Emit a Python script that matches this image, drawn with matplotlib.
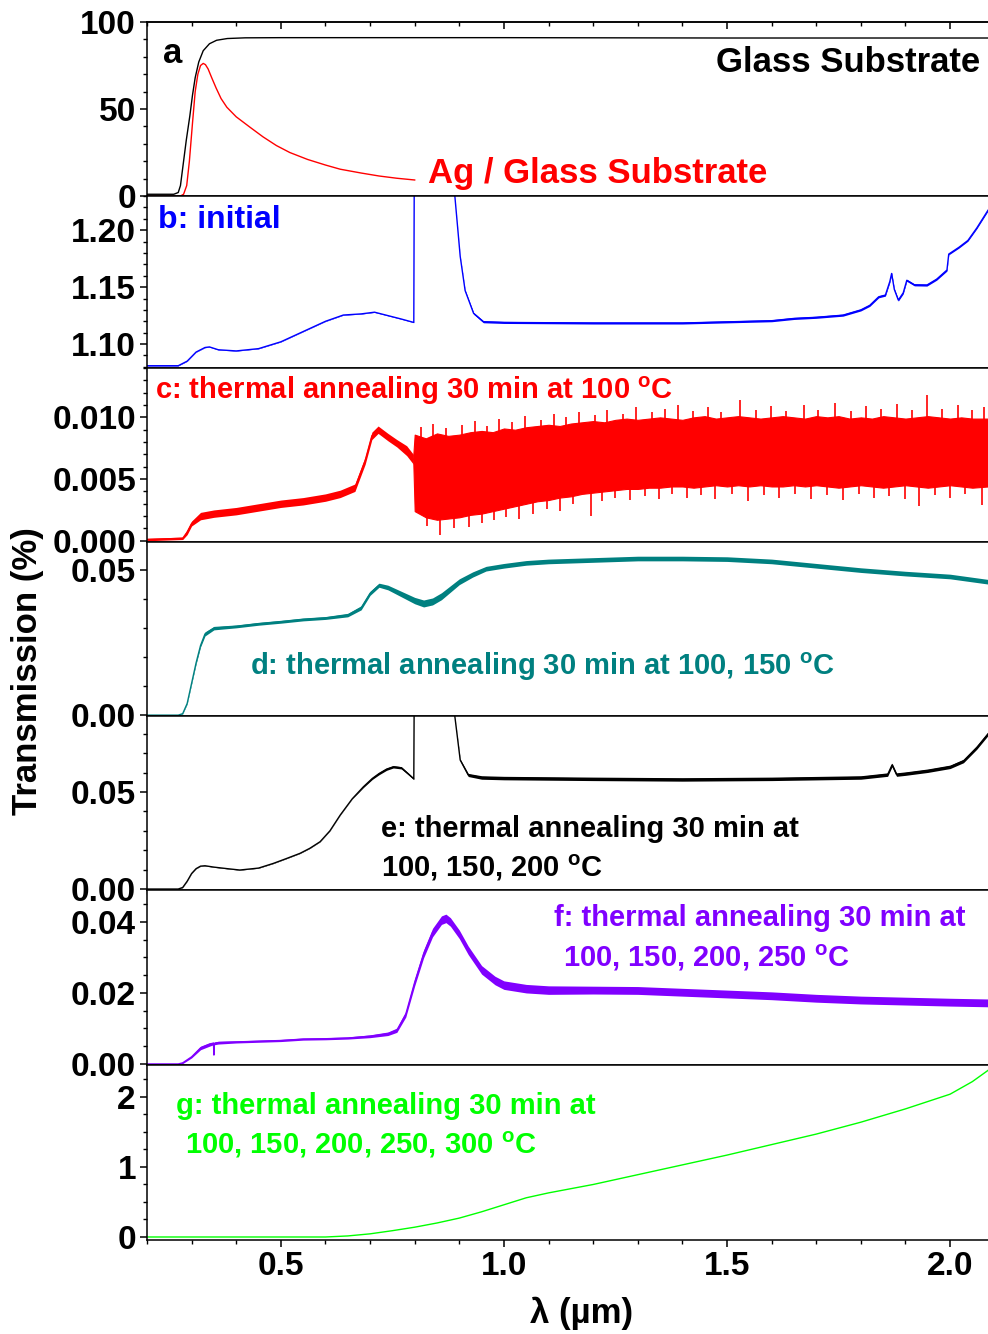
import matplotlib
matplotlib.use("Agg")
import matplotlib.pyplot as plt
from matplotlib.ticker import MultipleLocator, FormatStrFormatter
import numpy as np

plt.rcParams['font.family'] = ['Liberation Sans', 'DejaVu Sans']
plt.rcParams['font.weight'] = 'bold'
plt.rcParams['mathtext.fontset'] = 'custom'
plt.rcParams['mathtext.rm'] = 'Liberation Sans:bold'
plt.rcParams['mathtext.bf'] = 'Liberation Sans:bold'

# ---------------- data ----------------
# panel a: glass substrate and Ag / glass
a_glass_x = [0.20, 0.26, 0.27, 0.275, 0.281, 0.288, 0.296, 0.302, 0.308, 0.316, 0.326, 0.34,
             0.356, 0.38, 0.42, 0.50, 1.00, 1.50, 2.085]
a_glass_y = [1.0, 1.0, 2.0, 6.0, 18.0, 32.0, 46.0, 58.0, 68.0, 77.0, 83.5, 87.5, 89.5, 90.5,
             90.9, 91.0, 91.0, 90.8, 90.8]
a_ag_x = [0.20, 0.275, 0.282, 0.289, 0.295, 0.302, 0.308, 0.314, 0.320, 0.326, 0.331, 0.337,
          0.345, 0.355, 0.366, 0.379, 0.40, 0.431, 0.46, 0.49, 0.52, 0.56, 0.60, 0.633, 0.68,
          0.72, 0.76, 0.80]
a_ag_y = [0.0, 0.0, 1.0, 6.0, 20.0, 42.0, 60.0, 70.0, 75.0, 76.2, 75.5, 73.0, 68.0, 62.0, 56.0,
          51.0, 45.5, 39.5, 34.0, 29.0, 25.0, 21.0, 17.8, 15.4, 13.2, 11.5, 10.2, 9.2]

# panel b: initial
b_x = [0.20, 0.27, 0.29, 0.31, 0.33, 0.34, 0.36, 0.40, 0.45, 0.50, 0.55, 0.60, 0.64, 0.68, 0.71,
       0.74, 0.77, 0.798, 0.801, 0.888, 0.890, 0.902, 0.913, 0.932, 0.954, 1.00, 1.20, 1.40, 1.60,
       1.65, 1.70, 1.76, 1.80, 1.82, 1.84, 1.855, 1.865, 1.869, 1.875, 1.884, 1.895, 1.903, 1.92,
       1.948, 1.97, 1.993, 1.997, 2.02, 2.04, 2.06, 2.085]
b_y = [1.081, 1.081, 1.085, 1.093, 1.097, 1.0975, 1.095, 1.094, 1.096, 1.102, 1.111, 1.120, 1.1255,
       1.1265, 1.128, 1.125, 1.122, 1.119, 1.5, 1.5, 1.23, 1.177, 1.147, 1.127, 1.1196, 1.119,
       1.1185, 1.1185, 1.1205, 1.1225, 1.1235, 1.1254, 1.130, 1.134, 1.1415, 1.143, 1.155, 1.162,
       1.148, 1.1386, 1.145, 1.156, 1.152, 1.1518, 1.157, 1.165, 1.179, 1.185, 1.191, 1.202, 1.2175]
b_noise = [0.0002] * 19 + [0.0, 0.0, 0.0004, 0.0006, 0.0008, 0.0009, 0.0009, 0.0009, 0.0009,
           0.0009, 0.0009, 0.0009, 0.0009, 0.0009, 0.0009, 0.0009, 0.0009, 0.0009, 0.0009,
           0.0009, 0.0009, 0.0009, 0.0009, 0.0009, 0.0009, 0.0009, 0.0009, 0.0007, 0.0007,
           0.0007, 0.0007, 0.0007]

# panel c: 100 C  (smooth part + noisy part)
c_x = [0.20, 0.28, 0.29, 0.30, 0.32, 0.35, 0.40, 0.45, 0.50, 0.55, 0.60, 0.633, 0.666, 0.689,
       0.704, 0.718, 0.74, 0.76, 0.782, 0.797]
c_y = [0.0001, 0.0002, 0.0007, 0.0014, 0.0020, 0.0022, 0.0024, 0.0027, 0.0030, 0.0032, 0.0035,
       0.0038, 0.0043, 0.0065, 0.0085, 0.0090, 0.0084, 0.0079, 0.0073, 0.0066]
c_n = [0.0001, 0.0001, 0.0002, 0.0002, 0.0003, 0.0003, 0.0003, 0.0003, 0.0003, 0.0003, 0.0003,
       0.0003, 0.0003, 0.0003, 0.0003, 0.0003, 0.0003, 0.0003, 0.0004, 0.0004]
c_noisy_x = [0.797, 0.800, 0.825, 0.850, 0.875, 0.900, 0.925, 0.950, 0.975, 1.000, 1.025, 1.050,
             1.075, 1.100, 1.125, 1.150, 1.175, 1.200, 1.225, 1.250, 1.275, 1.300, 1.325, 1.350,
             1.375, 1.400, 1.425, 1.450, 1.475, 1.500, 1.525, 1.550, 1.575, 1.600, 1.625, 1.650,
             1.675, 1.700, 1.725, 1.750, 1.775, 1.800, 1.825, 1.850, 1.875, 1.900, 1.925, 1.950,
             1.975, 2.000, 2.025, 2.050, 2.085]
c_noisy_hi = [0.0070, 0.0086, 0.0083, 0.0087, 0.0085, 0.0086, 0.0088, 0.0089, 0.0088, 0.0091,
              0.0090, 0.0092, 0.0093, 0.0094, 0.0093, 0.0095, 0.0096, 0.0097, 0.0096, 0.0098,
              0.0099, 0.0098, 0.0099, 0.0100, 0.0099, 0.0098, 0.0100, 0.0101, 0.0099, 0.0100,
              0.0101, 0.0100, 0.0099, 0.0100, 0.0101, 0.0100, 0.0099, 0.0101, 0.0100, 0.0101,
              0.0099, 0.0100, 0.0099, 0.0101, 0.0100, 0.0099, 0.0100, 0.0101, 0.0100, 0.0099,
              0.0100, 0.0099, 0.0099]
c_noisy_lo = [0.0062, 0.0024, 0.0019, 0.0017, 0.0018, 0.0019, 0.0021, 0.0022, 0.0024, 0.0026,
              0.0028, 0.0030, 0.0032, 0.0033, 0.0035, 0.0036, 0.0038, 0.0039, 0.0040, 0.0041,
              0.0042, 0.0042, 0.0043, 0.0043, 0.0044, 0.0044, 0.0043, 0.0044, 0.0045, 0.0044,
              0.0045, 0.0044, 0.0045, 0.0044, 0.0044, 0.0045, 0.0044, 0.0045, 0.0044, 0.0043,
              0.0044, 0.0045, 0.0044, 0.0043, 0.0044, 0.0045, 0.0044, 0.0043, 0.0044, 0.0045,
              0.0044, 0.0043, 0.0044]
# noise spikes in panel c (upward tips and downward tips)
c_up_x = [0.815, 0.842, 0.871, 0.905, 0.936, 0.962, 0.99, 1.018, 1.047, 1.083,
          1.112, 1.139, 1.168, 1.205, 1.232, 1.268, 1.297, 1.331, 1.362, 1.391,
          1.424, 1.458, 1.487, 1.53, 1.566, 1.598, 1.633, 1.672, 1.705, 1.741,
          1.778, 1.812, 1.846, 1.881, 1.915, 1.948, 1.983, 2.017, 2.049, 2.076]
c_up_top = [0.0092, 0.0095, 0.0091, 0.0094, 0.0097, 0.0093, 0.0099, 0.0096, 0.0101, 0.0098,
            0.0103, 0.0100, 0.0104, 0.0102, 0.0106, 0.0103, 0.0108, 0.0104, 0.0107, 0.0110,
            0.0105, 0.0108, 0.0104, 0.0114, 0.0106, 0.0109, 0.0105, 0.0110, 0.0106, 0.0112,
            0.0105, 0.0109, 0.0107, 0.0111, 0.0106, 0.0118, 0.0107, 0.0110, 0.0106, 0.0108]
c_dn_x = [0.828, 0.857, 0.888, 0.921, 0.95, 0.977, 1.004, 1.033, 1.066, 1.097,
          1.126, 1.154, 1.196, 1.219, 1.25, 1.283, 1.316, 1.347, 1.377, 1.41,
          1.441, 1.473, 1.512, 1.548, 1.582, 1.617, 1.652, 1.688, 1.724, 1.759,
          1.795, 1.829, 1.864, 1.898, 1.931, 1.966, 2.0, 2.033, 2.071]
c_dn_bot = [0.0012, 0.0005, 0.0010, 0.0011, 0.0014, 0.0017, 0.0019, 0.0018, 0.0022, 0.0026,
            0.0024, 0.0030, 0.0020, 0.0032, 0.0035, 0.0033, 0.0036, 0.0034, 0.0038, 0.0035,
            0.0037, 0.0034, 0.0038, 0.0032, 0.0037, 0.0035, 0.0038, 0.0034, 0.0037, 0.0033,
            0.0038, 0.0035, 0.0036, 0.0034, 0.0028, 0.0037, 0.0035, 0.0038, 0.0029]

# panel d: 100, 150 C
d_x = [0.20, 0.27, 0.28, 0.29, 0.30, 0.31, 0.32, 0.33, 0.35, 0.40, 0.45, 0.50, 0.55, 0.60, 0.65,
       0.68, 0.70, 0.72, 0.74, 0.76, 0.78, 0.80, 0.82, 0.84, 0.86, 0.88, 0.90, 0.93, 0.96, 1.00,
       1.05, 1.10, 1.20, 1.30, 1.40, 1.50, 1.60, 1.70, 1.80, 1.90, 2.00, 2.085]
d_y = [0.0, 0.0, 0.0005, 0.004, 0.011, 0.018, 0.024, 0.028, 0.030, 0.0306, 0.0315, 0.0322, 0.0330,
       0.0335, 0.0345, 0.0370, 0.0420, 0.0448, 0.0440, 0.0425, 0.0410, 0.0395, 0.0385, 0.0392,
       0.0410, 0.0435, 0.0460, 0.0485, 0.0505, 0.0515, 0.0525, 0.0530, 0.0535, 0.0540, 0.0540,
       0.0538, 0.0530, 0.0515, 0.0500, 0.0488, 0.0478, 0.0460]
d_n = [0.0001, 0.0001, 0.0001, 0.0002, 0.0003, 0.0004, 0.0005, 0.0007, 0.0006, 0.0005, 0.0005,
       0.0005, 0.0005, 0.0005, 0.0006, 0.0007, 0.0007, 0.0007, 0.0008, 0.0009, 0.0010, 0.0011,
       0.0012, 0.0012, 0.0012, 0.0011, 0.0010, 0.0009, 0.0008, 0.0008, 0.0008, 0.0008, 0.0008,
       0.0008, 0.0008, 0.0008, 0.0008, 0.0008, 0.0008, 0.0008, 0.0008, 0.0008]

# panel e: 100, 150, 200 C
e_x = [0.20, 0.27, 0.28, 0.29, 0.30, 0.31, 0.32, 0.33, 0.35, 0.38, 0.408, 0.45, 0.483, 0.51,
       0.543, 0.565, 0.588, 0.61, 0.633, 0.66, 0.685, 0.705, 0.72, 0.737, 0.752, 0.77, 0.785,
       0.798, 0.801, 0.888, 0.890, 0.902, 0.92, 0.95, 1.00, 1.20, 1.40, 1.60, 1.80, 1.86, 1.87,
       1.88, 1.90, 1.95, 2.00, 2.03, 2.06, 2.085]
e_y = [0.0, 0.0, 0.0008, 0.004, 0.008, 0.0105, 0.0118, 0.0120, 0.0113, 0.0105, 0.0098, 0.0108,
       0.0132, 0.0155, 0.0184, 0.0210, 0.0244, 0.0300, 0.0381, 0.0465, 0.0527, 0.0570, 0.0595,
       0.0618, 0.0630, 0.0625, 0.0595, 0.0568, 0.20, 0.20, 0.089, 0.0665, 0.0588, 0.0575, 0.0572,
       0.0568, 0.0565, 0.0568, 0.0575, 0.0590, 0.0640, 0.0590, 0.0595, 0.0610, 0.0630, 0.0660,
       0.0730, 0.0800]
e_n = [0.0001] * 20 + [0.0004, 0.0005, 0.0006, 0.0006, 0.0006, 0.0006, 0.0005, 0.0004,
       0.0, 0.0, 0.0, 0.0005, 0.0008, 0.0009, 0.0009, 0.0009, 0.0009, 0.0009, 0.0009, 0.0009,
       0.0009, 0.0009, 0.0009, 0.0009, 0.0009, 0.0009, 0.0009, 0.0009]

# panel f: 100, 150, 200, 250 C
f_x = [0.20, 0.27, 0.28, 0.30, 0.32, 0.34, 0.349, 0.350, 0.351, 0.36, 0.40, 0.50, 0.55, 0.60,
       0.65, 0.70, 0.74, 0.76, 0.78, 0.80, 0.82, 0.84, 0.86, 0.87, 0.88, 0.90, 0.92, 0.95, 0.98,
       1.00, 1.05, 1.10, 1.20, 1.30, 1.40, 1.50, 1.60, 1.70, 1.80, 1.90, 2.00, 2.085]
f_y = [0.0, 0.0, 0.0003, 0.0020, 0.0045, 0.0055, 0.0058, 0.0025, 0.0058, 0.0060, 0.0062, 0.0066,
       0.0070, 0.0071, 0.0073, 0.0078, 0.0085, 0.0095, 0.0140, 0.0230, 0.0310, 0.0370, 0.0405,
       0.0410, 0.0400, 0.0365, 0.0320, 0.0265, 0.0235, 0.0222, 0.0212, 0.0208, 0.0208, 0.0207,
       0.0202, 0.0197, 0.0192, 0.0185, 0.0180, 0.0177, 0.0174, 0.0172]
f_n = [0.0001, 0.0001, 0.0002, 0.0003, 0.0005, 0.0005, 0.0004, 0.0, 0.0004, 0.0004, 0.0003,
       0.0003, 0.0003, 0.0003, 0.0003, 0.0004, 0.0005, 0.0006, 0.0008, 0.0010, 0.0011, 0.0012,
       0.0012, 0.0012, 0.0012, 0.0012, 0.0012, 0.0012, 0.0012, 0.0012, 0.0012, 0.0012, 0.0011,
       0.0011, 0.0011, 0.0011, 0.0011, 0.0011, 0.0011, 0.0011, 0.0011, 0.0011]

# panel g: 100, 150, 200, 250, 300 C
g_x = [0.20, 0.60, 0.65, 0.70, 0.75, 0.80, 0.85, 0.90, 0.95, 1.00, 1.05, 1.10, 1.15, 1.20, 1.30,
       1.40, 1.50, 1.60, 1.70, 1.80, 1.90, 2.00, 2.05, 2.085]
g_y = [0.0, 0.0, 0.015, 0.045, 0.09, 0.14, 0.20, 0.27, 0.36, 0.46, 0.56, 0.63, 0.69, 0.75, 0.89,
       1.03, 1.17, 1.32, 1.47, 1.64, 1.83, 2.04, 2.22, 2.38]

# tick labels / limits per panel
ylims = [(0, 100), (1.079, 1.23), (-0.0001, 0.0140), (-0.0003, 0.0597), (-0.0005, 0.0892),
         (-0.0003, 0.049), (-0.043, 2.457)]
ymajor = [50, 0.05, 0.005, 0.05, 0.05, 0.02, 1]
yminor = [10, 0.01, 0.001, 0.01, 0.01, 0.005, 0.25]
yfmt = ['%d', '%.2f', '%.3f', '%.2f', '%.2f', '%.2f', '%d']

# ---------------- figure ----------------
W, H = 988, 1334
fig = plt.figure(figsize=(W / 100, H / 100), dpi=100)
bounds = [22, 196, 368, 542, 716, 890, 1065, 1240]
left_px, right_px = 147, 988
axes = []
for i in range(7):
    top, bot = bounds[i], bounds[i + 1]
    ax = fig.add_axes([left_px / W, 1 - bot / H, (right_px - left_px) / W, (bot - top) / H])
    axes.append(ax)

BLUE = '#0000ff'
RED = '#ff0000'
TEAL = '#008080'
PURPLE = '#8000ff'
GREEN = '#00ff00'
LW = 1.0

def noisy(ax, x, y, n, color):
    x = np.asarray(x); y = np.asarray(y); n = np.asarray(n)
    ax.fill_between(x, y - n, y + n, color=color, lw=0)
    ax.plot(x, y, color=color, lw=LW)

# a
ax = axes[0]
ax.plot(a_glass_x, a_glass_y, color='black', lw=LW)
ax.plot(a_ag_x, a_ag_y, color=RED, lw=LW)
ax.text(0.236, 82, 'a', color='black', fontsize=25, fontweight='bold', va='center', ha='left')
ax.text(2.068, 77, 'Glass Substrate', color='black', fontsize=25, fontweight='bold', va='center', ha='right')
ax.text(0.83, 12.7, 'Ag / Glass Substrate', color=RED, fontsize=25, fontweight='bold', va='center', ha='left')

# b
ax = axes[1]
noisy(ax, b_x, b_y, b_noise, BLUE)
ax.text(0.225, 1.2088, 'b: initial', color=BLUE, fontsize=23, fontweight='bold', va='center', ha='left')

# c
ax = axes[2]
noisy(ax, c_x, c_y, c_n, RED)
ax.fill_between(c_noisy_x, c_noisy_lo, c_noisy_hi, color=RED, lw=0.8, edgecolor=RED)
ax.vlines(c_up_x, 0.0070, c_up_top, color=RED, lw=1.2)
ax.vlines(c_dn_x, c_dn_bot, 0.0060, color=RED, lw=1.2)
ax.text(0.218, 0.01218, r'c: thermal annealing 30 min at 100 $^\mathbf{o}$C', color=RED,
        fontsize=21, fontweight='bold', va='center', ha='left')

# d
ax = axes[3]
noisy(ax, d_x, d_y, d_n, TEAL)
ax.text(0.431, 0.0166, r'd: thermal annealing 30 min at 100, 150 $^\mathbf{o}$C', color=TEAL,
        fontsize=21, fontweight='bold', va='center', ha='left')

# e
ax = axes[4]
noisy(ax, e_x, e_y, e_n, 'black')
ax.text(0.725, 0.0309, 'e: thermal annealing 30 min at', color='black',
        fontsize=21, fontweight='bold', va='center', ha='left')
ax.text(0.725, 0.0108, r'100, 150, 200 $^\mathbf{o}$C', color='black',
        fontsize=21, fontweight='bold', va='center', ha='left')

# f
ax = axes[5]
noisy(ax, f_x, f_y, f_n, PURPLE)
ax.text(1.113, 0.0411, 'f: thermal annealing 30 min at', color=PURPLE,
        fontsize=21, fontweight='bold', va='center', ha='left')
ax.text(1.133, 0.0299, r'100, 150, 200, 250 $^\mathbf{o}$C', color=PURPLE,
        fontsize=21, fontweight='bold', va='center', ha='left')

# g
ax = axes[6]
ax.plot(g_x, g_y, color=GREEN, lw=LW)
ax.text(0.265, 1.87, 'g: thermal annealing 30 min at', color=GREEN,
        fontsize=21, fontweight='bold', va='center', ha='left')
ax.text(0.285, 1.31, r'100, 150, 200, 250, 300 $^\mathbf{o}$C', color=GREEN,
        fontsize=21, fontweight='bold', va='center', ha='left')

for i, ax in enumerate(axes):
    ax.set_xlim(0.2, 2.085)
    ax.set_ylim(*ylims[i])
    ax.xaxis.set_major_locator(MultipleLocator(0.5))
    ax.xaxis.set_minor_locator(MultipleLocator(0.1))
    ax.yaxis.set_major_locator(MultipleLocator(ymajor[i]))
    ax.yaxis.set_minor_locator(MultipleLocator(yminor[i]))
    ax.yaxis.set_major_formatter(FormatStrFormatter(yfmt[i]))
    ax.spines['right'].set_visible(False)
    for s in ['left', 'bottom', 'top']:
        ax.spines[s].set_linewidth(1.1)
    ax.tick_params(axis='both', which='major', direction='out', length=5, width=1.1,
                   labelsize=24, pad=3)
    ax.tick_params(axis='both', which='minor', direction='out', length=3, width=1.0)
    ax.tick_params(axis='x', which='both', top=False)
    for lab in ax.get_yticklabels():
        lab.set_fontweight('bold')
    if i < 6:
        ax.tick_params(axis='x', labelbottom=False)
    else:
        for lab in ax.get_xticklabels():
            lab.set_fontweight('bold')
        ax.tick_params(axis='x', which='major', pad=3)

# top ticks pointing in on the first panel
sec = axes[0].secondary_xaxis('top')
sec.xaxis.set_major_locator(MultipleLocator(0.5))
sec.xaxis.set_minor_locator(MultipleLocator(0.1))
sec.tick_params(axis='x', which='major', direction='in', length=5, width=1.1, labeltop=False)
sec.tick_params(axis='x', which='minor', direction='in', length=3, width=1.0)
sec.spines['top'].set_linewidth(1.1)

fig.text(0.028, 1 - 671 / H, 'Transmission (%)', rotation=90, fontsize=25, fontweight='bold',
         va='center', ha='center')
fig.text(582 / W, 1 - 1313 / H, 'λ (µm)', fontsize=25, fontweight='bold', va='center', ha='center')

fig.savefig('out.png', dpi=100)
